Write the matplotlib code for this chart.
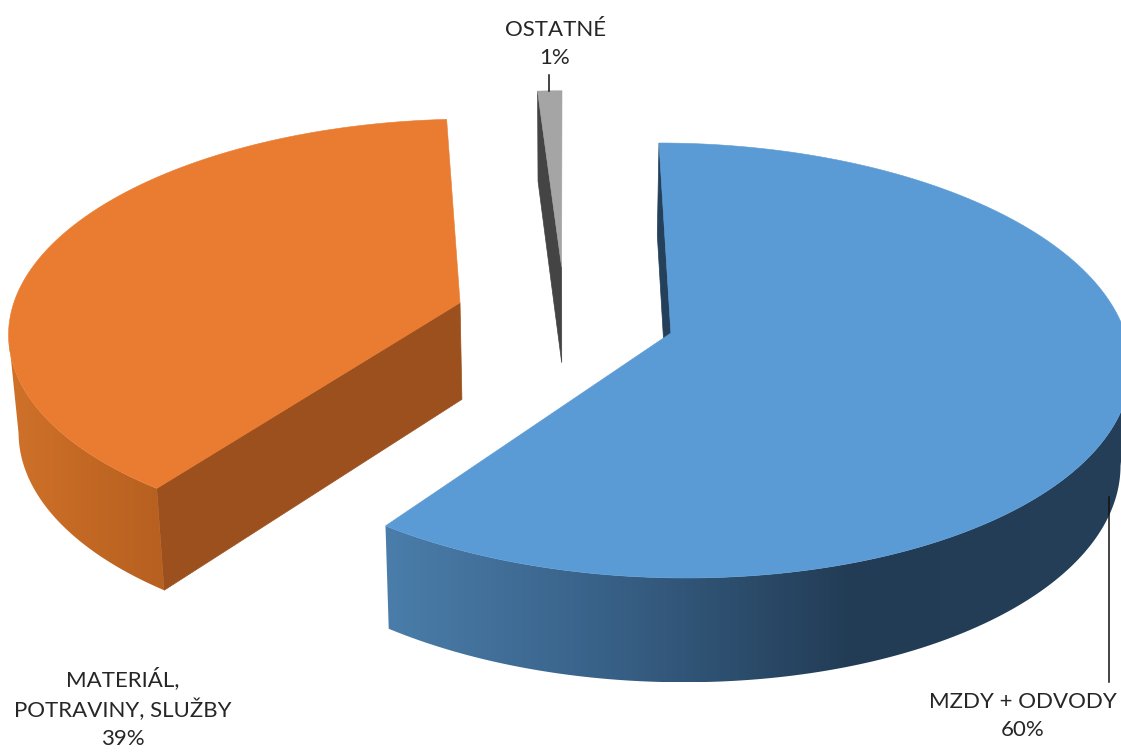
import numpy as np
import matplotlib
matplotlib.use("Agg")
import matplotlib.pyplot as plt
from matplotlib.patches import Polygon
from matplotlib.colors import to_rgb

categories = ["MZDY + ODVODY", "MATERIÁL,\nPOTRAVINY, SLUŽBY", "OSTATNÉ"]
values = [60, 39, 1]
top_colors = ["#5B9BD5", "#E97C31", "#A5A5A5"]
cut_colors = ["#24405A", "#9C501E", "#444444"]

W, H = 1121, 754
CX, CY, AX, AY, K = 565, 317, 450, 210, 0.125
EXPL, DEPTH, CONV = 0.245, 97, 0.018
START = 0.0


def project(u, v, low=False):
    d = 1 + K * v
    x = AX * u / d
    y = -AY * v / d
    if low:
        x *= 1 - CONV
        y += DEPTH / np.sqrt(d)
    return CX + x, CY + y


fig = plt.figure(figsize=(W / 100, H / 100), dpi=100)
ax = fig.add_axes([0, 0, 1, 1])

fracs = np.array(values) / sum(values)
edges = START + 360 * np.concatenate([[0], np.cumsum(fracs)])
wall_ramps = [
    ([388, 620, 850, 1121], ["#4A7DAA", "#375F85", "#223C55", "#243F57"]),
    ([10, 160], ["#CF7129", "#B76020"]),
    None,
]

z = 1
for i in [1, 2, 0]:
    a0, a1 = np.radians(edges[i]), np.radians(edges[i + 1])
    mid = (a0 + a1) / 2
    ou, ov = EXPL * np.sin(mid), EXPL * np.cos(mid)
    t = np.linspace(a0, a1, 400)
    us, vs = ou + np.sin(t), ov + np.cos(t)
    # visible cut face
    p = [project(ou, ov), project(ou + np.sin(a0), ov + np.cos(a0)),
         project(ou + np.sin(a0), ov + np.cos(a0), True), project(ou, ov, True)]
    ax.fill(*zip(*p), color=cut_colors[i], lw=0.5, zorder=z)
    z += 1
    xt, yt = project(us, vs)
    if wall_ramps[i] is not None:
        # outer wall: only the front-facing arc, filled with a horizontal gradient
        xb, yb = project(us, vs, True)
        if xt.mean() > CX:
            s = slice(int(np.argmax(xt)), None)
        else:
            s = slice(0, int(np.argmin(xt)) + 1)
        outline = np.c_[np.r_[xt[s], xb[s][::-1]], np.r_[yt[s], yb[s][::-1]]]
        xs, cs = wall_ramps[i]
        grid = np.linspace(outline[:, 0].min(), outline[:, 0].max(), 400)
        rgb = np.stack([np.interp(grid, xs, [to_rgb(c)[k] for c in cs]) for k in range(3)],
                       axis=-1)[None, :, :]
        im = ax.imshow(rgb, extent=[grid[0], grid[-1], outline[:, 1].max(), outline[:, 1].min()],
                       aspect="auto", zorder=z, interpolation="bilinear")
        clip = Polygon(outline, closed=True, transform=ax.transData, fc="none", ec="none")
        ax.add_patch(clip)
        im.set_clip_path(clip)
        z += 1
    # top face
    ax0, ay0 = project(ou, ov)
    ax.fill(np.r_[ax0, xt], np.r_[ay0, yt], color=top_colors[i], lw=0.4, zorder=z)
    z += 1

ax.set_xlim(0, W)
ax.set_ylim(H, 0)
ax.axis("off")

font = "Lato"
ts = 16
col = "#262626"
ax.plot([1109, 1109], [497, 682], color="#111111", lw=1.1, zorder=z)
ax.plot([549, 549], [75, 91], color="#111111", lw=1.1, zorder=z)
kw = dict(ha="center", va="center", fontsize=ts, family=font, color=col,
          linespacing=1.5, multialignment="center", zorder=z)
ax.text(1023, 716, f"{categories[0]}\n{values[0]}%", **kw)
ax.text(123, 708, f"{categories[1]}\n{values[1]}%", **kw)
ax.text(555, 44, f"{categories[2]}\n{values[2]}%", **kw)

fig.savefig("out.png", dpi=100)
